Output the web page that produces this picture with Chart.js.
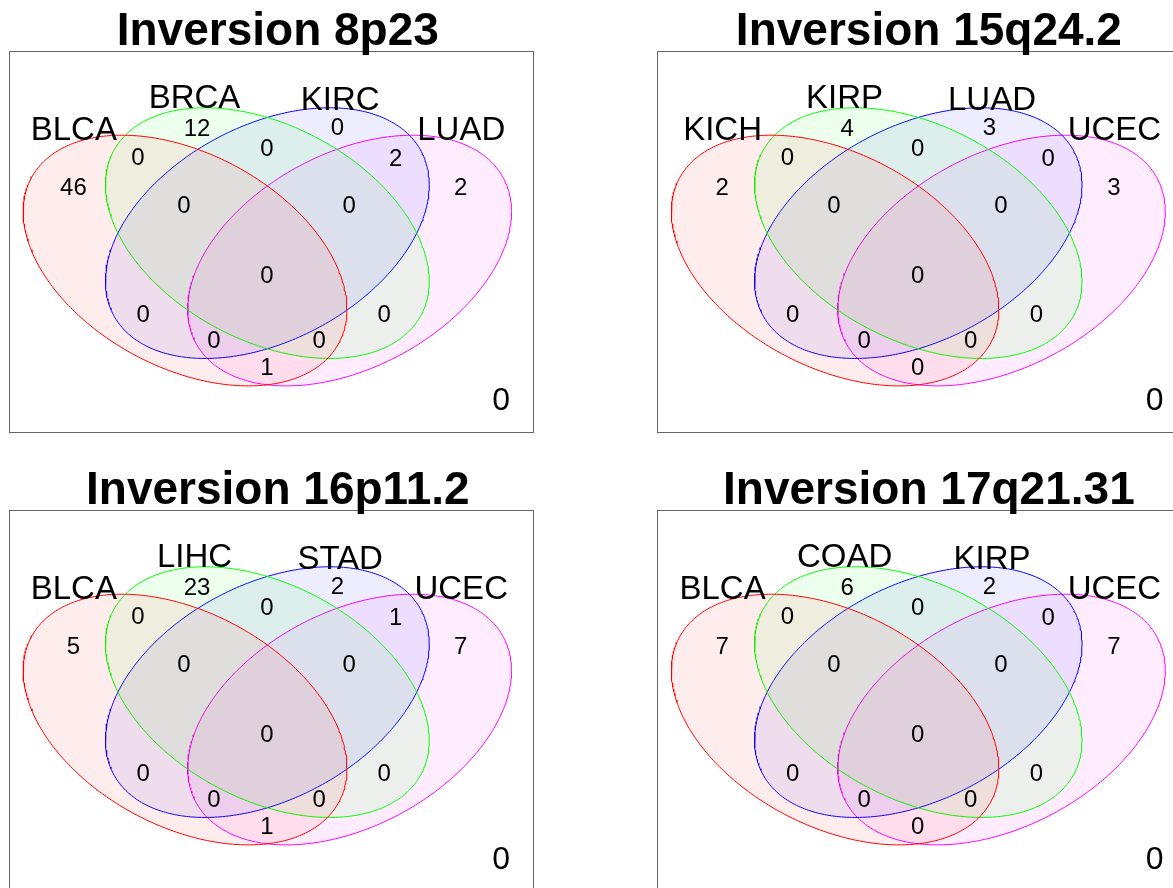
<!DOCTYPE html>
<html>
<head>
<meta charset="utf-8">
<title>Inversion overlap across tumour types</title>
<script src="https://cdn.jsdelivr.net/npm/chart.js@4.4.1/dist/chart.umd.min.js"></script>
<style>
  html, body { margin: 0; padding: 0; background: #ffffff; width: 1173px; height: 888px; overflow: hidden; position: relative; }
  canvas { position: absolute; }
</style>
</head>
<body>
<canvas id="venn0" width="586" height="440" style="left:0px;top:0px;width:586px;height:440px"></canvas>
<canvas id="venn1" width="600" height="440" style="left:600px;top:0px;width:600px;height:440px"></canvas>
<canvas id="venn2" width="586" height="445" style="left:0px;top:455px;width:586px;height:445px"></canvas>
<canvas id="venn3" width="600" height="445" style="left:600px;top:455px;width:600px;height:445px"></canvas>
<script>
// ---- data -------------------------------------------------------------
const panelTitles = ['Inversion 8p23', 'Inversion 15q24.2', 'Inversion 16p11.2', 'Inversion 17q21.31'];

const sets8p23  = ['BLCA', 'BRCA', 'KIRC', 'LUAD'];
const sets15q24 = ['KICH', 'KIRP', 'LUAD', 'UCEC'];
const sets16p11 = ['BLCA', 'LIHC', 'STAD', 'UCEC'];
const sets17q21 = ['BLCA', 'COAD', 'KIRP', 'UCEC'];

// region membership (set 1..4), "0000" = in none of the sets
const regionKeys = ['1000', '0100', '0010', '0001', '1100', '0110', '0011', '1110',
                    '0111', '1111', '1010', '0101', '1011', '1101', '1001', '0000'];

const counts8p23  = [46, 12, 0, 2, 0, 0, 2, 0, 0, 0, 0, 0, 0, 0, 1, 0];
const counts15q24 = [2, 4, 3, 3, 0, 0, 0, 0, 0, 0, 0, 0, 0, 0, 0, 0];
const counts16p11 = [5, 23, 2, 7, 0, 0, 1, 0, 0, 0, 0, 0, 0, 0, 1, 0];
const counts17q21 = [7, 6, 2, 7, 0, 0, 0, 0, 0, 0, 0, 0, 0, 0, 0, 0];

// ---- styling / layout ---------------------------------------------------
const setStroke = ['#ff0000', '#00ff00', '#0000ff', '#ff00ff'];
const setFill   = ['rgba(255,0,0,0.07)', 'rgba(0,255,0,0.07)', 'rgba(0,0,255,0.07)', 'rgba(255,0,255,0.07)'];

// four-set ellipse layout in unit coordinates of the framed area (x right, y up)
const ellipseShapes = [
  { cx: 0.336, cy: 0.450, rx: 0.309, ry: 0.329, tilt: -0.39 },
  { cx: 0.493, cy: 0.522, rx: 0.309, ry: 0.329, tilt: -0.385 },
  { cx: 0.493, cy: 0.522, rx: 0.309, ry: 0.329, tilt: 0.385 },
  { cx: 0.650, cy: 0.450, rx: 0.309, ry: 0.329, tilt: 0.39 }
];

// where each region's count sits, same order as regionKeys
const regionAnchors = [
  [0.123, 0.640], [0.359, 0.795], [0.627, 0.797], [0.862, 0.640],
  [0.246, 0.718], [0.492, 0.743], [0.738, 0.716], [0.334, 0.593],
  [0.649, 0.593], [0.492, 0.408], [0.256, 0.307], [0.716, 0.307],
  [0.391, 0.239], [0.592, 0.239], [0.492, 0.167], [0.939, 0.080]
];
// category label baselines
const labelAnchors = [[0.1237, 0.767], [0.354, 0.851], [0.632, 0.844], [0.863, 0.767]];

const panelFrames = [
  { id: 'venn0', pad: { left: 9,  top: 51, right: 53, bottom: 8 } },
  { id: 'venn1', pad: { left: 57, top: 51, right: 13, bottom: 8 } },
  { id: 'venn2', pad: { left: 9,  top: 55, right: 53, bottom: 9 } },
  { id: 'venn3', pad: { left: 57, top: 55, right: 13, bottom: 9 } }
];

const panelSets   = [sets8p23, sets15q24, sets16p11, sets17q21];
const panelCounts = [counts8p23, counts15q24, counts16p11, counts17q21];

const FONT = 'Helvetica, Arial, "Liberation Sans", sans-serif';

function ellipseOutline(e, n) {
  const pts = [];
  const s = Math.sqrt(1 - e.tilt * e.tilt);
  for (let k = 0; k <= n; k++) {
    const t = 2 * Math.PI * k / n;
    pts.push({ x: e.cx + e.rx * Math.cos(t), y: e.cy + e.ry * (e.tilt * Math.cos(t) + s * Math.sin(t)) });
  }
  return pts;
}

// frame, title, category names and region counts
const vennText = {
  id: 'vennText',
  afterDatasetsDraw(chart, args, opts) {
    const { ctx, chartArea: a, scales: { x, y } } = chart;
    ctx.save();
    ctx.fillStyle = '#000000';
    ctx.textAlign = 'center';
    // category names
    ctx.font = '33px ' + FONT;
    ctx.textBaseline = 'alphabetic';
    opts.sets.forEach((name, i) => {
      ctx.fillText(name, x.getPixelForValue(labelAnchors[i][0]), y.getPixelForValue(labelAnchors[i][1]));
    });
    // counts
    ctx.textBaseline = 'middle';
    opts.counts.forEach((v, i) => {
      ctx.font = (regionKeys[i] === '0000' ? '32px ' : '24px ') + FONT;
      ctx.fillText(String(v), x.getPixelForValue(regionAnchors[i][0]), y.getPixelForValue(regionAnchors[i][1]));
    });
    ctx.restore();
  },
  afterDraw(chart, args, opts) {
    const { ctx, chartArea: a } = chart;
    ctx.save();
    ctx.strokeStyle = '#666666';
    ctx.lineWidth = 1;
    ctx.strokeRect(Math.round(a.left) + 0.5, Math.round(a.top) + 0.5, Math.round(a.right - a.left), Math.round(a.bottom - a.top));
    ctx.fillStyle = '#000000';
    ctx.textAlign = 'center';
    ctx.textBaseline = 'alphabetic';
    ctx.font = 'bold 46px ' + FONT;
    ctx.fillText(opts.title, a.left + 0.513 * (a.right - a.left), a.top - 6);
    ctx.restore();
  }
};

panelFrames.forEach((frame, p) => {
  const datasets = ellipseShapes.map((e, i) => ({
    label: panelSets[p][i],
    data: ellipseOutline(e, 360),
    showLine: true,
    fill: 'shape',
    backgroundColor: setFill[i],
    borderColor: setStroke[i],
    borderWidth: 1,
    pointRadius: 0,
    pointHoverRadius: 0,
    tension: 0
  }));
  new Chart(document.getElementById(frame.id), {
    type: 'scatter',
    data: { datasets },
    options: {
      responsive: false,
      animation: false,
      devicePixelRatio: 1,
      events: [],
      layout: { padding: frame.pad },
      scales: {
        x: { type: 'linear', min: 0, max: 1, display: false },
        y: { type: 'linear', min: 0, max: 1, display: false }
      },
      plugins: {
        legend: { display: false },
        tooltip: { enabled: false },
        vennText: { title: panelTitles[p], sets: panelSets[p], counts: panelCounts[p] }
      }
    },
    plugins: [vennText]
  });
});
</script>
</body>
</html>
